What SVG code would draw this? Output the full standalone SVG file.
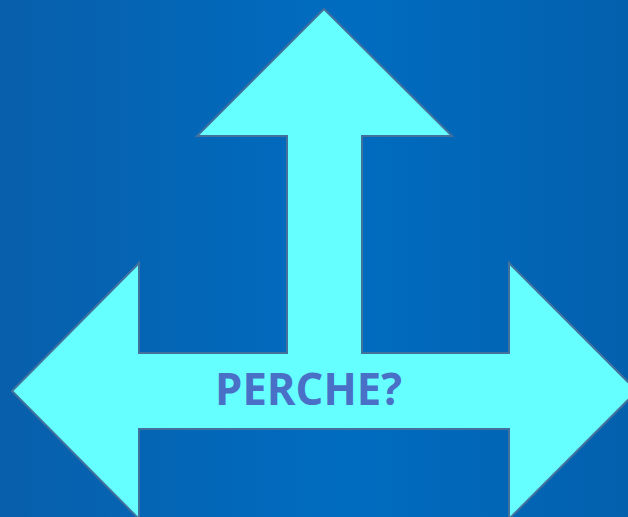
<svg xmlns="http://www.w3.org/2000/svg" width="628" height="517" viewBox="0 0 628 517">
<defs>
<linearGradient id="bg" x1="0" y1="0" x2="1" y2="0">
<stop offset="0" stop-color="#085fab"/>
<stop offset="0.55" stop-color="#006cc0"/>
<stop offset="1" stop-color="#0360ad"/>
</linearGradient>
<style>
.arrow{fill:#66ffff;stroke:#41719c;stroke-width:2;stroke-linejoin:miter}
.lbl{font-family:"Open Sans","Liberation Sans",sans-serif;font-weight:bold;font-size:44px;fill:#4a6fc6}
</style>
</defs>
<rect width="628" height="517" fill="url(#bg)"/>
<g id="arrow">
<path class="arrow" d="M324,9 L452,136 L362,136 L362,353 L509,353 L509,263 L637,391 L509,519 L509,429 L139,429 L139,519 L12,391 L139,263 L139,353 L287,353 L287,136 L197,136 Z"/>
</g>
<g id="label">
<text class="lbl" x="215" y="405" textLength="187" lengthAdjust="spacingAndGlyphs">PERCHE?</text>
</g>
</svg>
